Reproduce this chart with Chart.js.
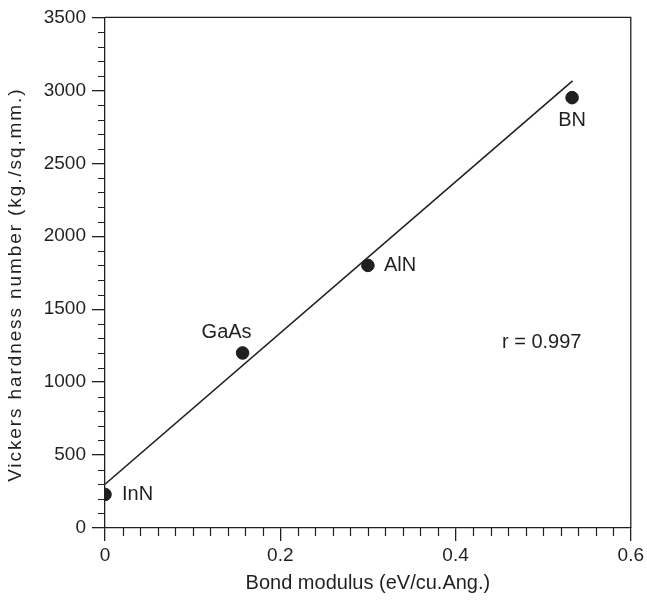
<!DOCTYPE html>
<html>
<head>
<meta charset="utf-8">
<script src="https://cdn.jsdelivr.net/npm/chart.js@4/dist/chart.umd.min.js"></script>
<style>
html,body{margin:0;padding:0;background:#fff;}
#wrap{width:647px;height:604px;}
</style>
</head>
<body>
<div id="wrap"><canvas id="c" width="647" height="604"></canvas></div>
<script>
const materials = ['InN', 'GaAs', 'AlN', 'BN'];
const bondModulus = [0, 0.157, 0.300, 0.533];
const hardness = [230, 1200, 1800, 2950];
const fitX = [0, 0.5335];
const fitY = [300, 3065];
const xTicks = [0, 0.2, 0.4, 0.6];
const yTicks = [0, 500, 1000, 1500, 2000, 2500, 3000, 3500];
const rText = 'r = 0.997';
const rPos = [0.453, 1269];
const yTitle = 'Vickers hardness number (kg./sq.mm.)';

const INK = '#231f20';
const FONT = '"Liberation Sans", Arial, sans-serif';
// label placement: [dx, dy, align]
const labelPlace = {InN: [17, 0, 'left'], GaAs: [-16, -20, 'center'], AlN: [16, 0, 'left'], BN: [0, 23, 'center']};

const decor = {
  id: 'decor',
  afterDraw(chart) {
    const ctx = chart.ctx, xs = chart.scales.x, ys = chart.scales.y, a = chart.chartArea;
    ctx.save();
    ctx.strokeStyle = INK; ctx.lineWidth = 1.3;
    // frame top & right
    ctx.beginPath();
    ctx.moveTo(a.left, a.top); ctx.lineTo(a.right, a.top); ctx.lineTo(a.right, a.bottom);
    ctx.stroke();
    // minor ticks
    ctx.lineWidth = 1.2;
    ctx.beginPath();
    for (let v = 0; v <= 3500.001; v += 100) {
      if (Math.abs(v % 500) < 1e-6) continue;
      const py = Math.round(ys.getPixelForValue(v)) + 0.5;
      ctx.moveTo(a.left, py); ctx.lineTo(a.left - 7, py);
    }
    for (let i = 0; i <= 30; i++) {
      if (i % 10 === 0) continue;
      const px = Math.round(xs.getPixelForValue(i * 0.02)) + 0.5;
      ctx.moveTo(px, a.bottom); ctx.lineTo(px, a.bottom + 8);
    }
    ctx.stroke();
    // point labels
    ctx.fillStyle = INK;
    ctx.font = '20px ' + FONT;
    ctx.textBaseline = 'middle';
    materials.forEach((m, i) => {
      const px = xs.getPixelForValue(bondModulus[i]);
      const py = ys.getPixelForValue(hardness[i]);
      const p = labelPlace[m];
      ctx.textAlign = p[2];
      ctx.fillText(m, px + p[0], py + p[1]);
    });
    ctx.textAlign = 'left';
    ctx.fillText(rText, xs.getPixelForValue(rPos[0]), ys.getPixelForValue(rPos[1]));
    // y axis title (with letter spacing)
    ctx.save();
    ctx.font = '19px ' + FONT;
    ctx.letterSpacing = '1.9px';
    ctx.translate(16, (a.top + a.bottom) / 2 + 12);
    ctx.rotate(-Math.PI / 2);
    ctx.textAlign = 'center';
    ctx.textBaseline = 'middle';
    ctx.fillText(yTitle, 0, 0);
    ctx.restore();
    ctx.restore();
  }
};

new Chart(document.getElementById('c'), {
  type: 'scatter',
  data: {
    datasets: [
      {
        type: 'line',
        data: fitX.map((x, i) => ({x, y: fitY[i]})),
        borderColor: INK, borderWidth: 1.6, pointRadius: 0, fill: false, tension: 0
      },
      {
        data: bondModulus.map((x, i) => ({x, y: hardness[i]})),
        backgroundColor: INK, borderColor: INK, pointRadius: 6.3, pointHoverRadius: 6.3
      }
    ]
  },
  plugins: [decor],
  options: {
    responsive: false,
    animation: false,
    events: [],
    layout: {padding: {top: 14, right: 16, left: 0, bottom: 0}},
    plugins: {legend: {display: false}, tooltip: {enabled: false}},
    scales: {
      x: {
        type: 'linear', min: 0, max: 0.6,
        afterBuildTicks: s => { s.ticks = xTicks.map(v => ({value: v})); },
        afterFit: s => { s.height = 76; },
        border: {color: INK, width: 1.3},
        grid: {drawOnChartArea: false, tickLength: 13, color: INK, lineWidth: 1.3},
        ticks: {color: INK, font: {family: FONT, size: 19}, padding: 3, maxRotation: 0,
          callback: v => v === 0 ? '0' : Number(v).toFixed(1)},
        title: {display: true, text: 'Bond modulus (eV/cu.Ang.)', color: INK,
          font: {family: FONT, size: 20}, padding: {top: 0, bottom: 9}}
      },
      y: {
        type: 'linear', min: 0, max: 3500,
        afterBuildTicks: s => { s.ticks = yTicks.map(v => ({value: v})); },
        afterFit: s => { s.width = 105; },
        border: {color: INK, width: 1.3},
        grid: {drawOnChartArea: false, tickLength: 13, color: INK, lineWidth: 1.3},
        ticks: {color: INK, font: {family: FONT, size: 19}, padding: 6,
          callback: v => String(v)},
        title: {display: false}
      }
    }
  }
});
</script>
</body>
</html>
